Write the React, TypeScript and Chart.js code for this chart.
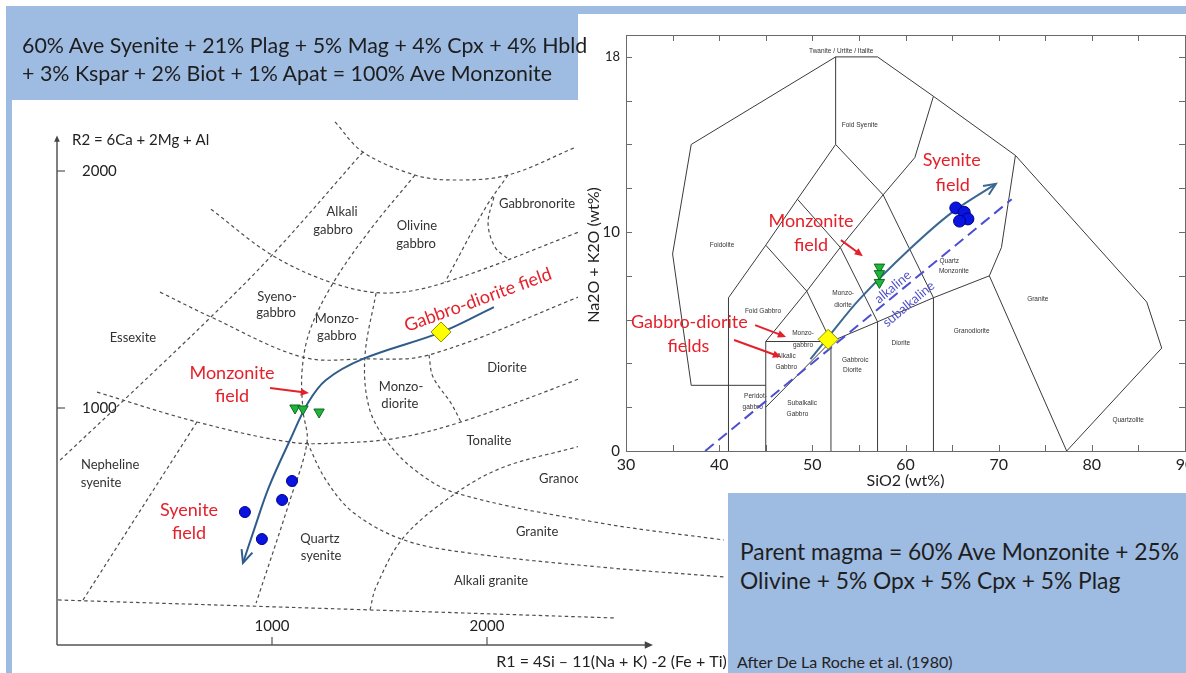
import React, { useEffect, useRef } from "react";
import { Chart, registerables } from "chart.js";

Chart.register(...registerables);

type Pt = [number, number];

const FONT = "Lato, 'Open Sans', sans-serif";
const SMALL = "'Liberation Sans', Arial, sans-serif";
const RED = "#e4212b";
const BLUE_BG = "#9ebbe2";

// ---------------- Left chart: R1-R2 diagram ----------------
const r1Ticks = [1000, 2000];
const r1TickLabels = ["1000", "2000"];
const r2Ticks = [1000, 2000];
const r2TickLabels = ["1000", "2000"];
const r1AxisEnd = 2772;
const r2AxisEnd = 2150;

const bTopArc: Pt[] = [[1293, 2207], [1423, 2080], [1665, 1983], [1846, 1962], [2098, 1983], [2414, 2101]];
const bAlkaliGabbroW: Pt[] = [[1423, 2080], [1000, 1645], [716, 1384], [326, 1046], [5, 772]];
const bUpperCurve: Pt[] = [[716, 1839], [1000, 1645], [1284, 1527], [1530, 1485], [1795, 1527], [2414, 1738], [2600, 1810]];
const bMiddleCurve: Pt[] = [[479, 1489], [716, 1384], [1140, 1215], [1423, 1207], [1730, 1224], [2414, 1464], [2600, 1540]];
const bLowerCurve: Pt[] = [[186, 1067], [651, 941], [1084, 856], [1298, 852], [1581, 873], [1879, 941], [2414, 1118], [2600, 1190]];
const bSyeniteW: Pt[] = [[1665, 1983], [1456, 1751], [1284, 1527], [1177, 1329], [1140, 1160], [1144, 991], [1163, 856], [1084, 612], [926, 177]];
const bOlivineE: Pt[] = [[2098, 1983], [1995, 1848], [1805, 1532]];
const bGabbronorite: Pt[] = [[2032, 1890], [2005, 1780], [2037, 1679], [2098, 1629]];
const bMonzoE: Pt[] = [[1484, 1485], [1432, 1215], [1451, 1004], [1530, 865], [1665, 738], [1856, 641], [2525, 515], [3102, 443]];
const bDioriteW: Pt[] = [[1730, 1224], [1749, 1131], [1832, 1021], [1879, 941]];
const bQzSyeniteE: Pt[] = [[1163, 856], [1251, 696], [1381, 557], [1614, 443], [1916, 388], [2525, 329], [3102, 287]];
const bGraniteW: Pt[] = [[1456, 148], [1484, 245], [1614, 456], [1856, 641], [2079, 751], [2414, 835], [2758, 928]];
const bBase: Pt[] = [[5, 190], [1456, 148], [2595, 114]];
const bNephSyeniteE: Pt[] = [[651, 941], [121, 190]];

const leftTrend: Pt[] = [[2032, 1426], [1791, 1321], [1423, 1207], [1251, 1118], [1167, 1021], [1084, 865], [986, 667], [916, 485], [865, 346]];

const leftSyeniteR1 = [1093, 1047, 874, 953];
const leftSyeniteR2 = [692, 612, 561, 447];
const leftMonzoniteR1 = [1107, 1144, 1219];
const leftMonzoniteR2 = [1000, 996, 983];
const leftParentR1 = [1786];
const leftParentR2 = [1321];

const leftFieldLabels = [
  { t: "Alkali", x: 1326, y: 1827 }, { t: "gabbro", x: 1284, y: 1751 },
  { t: "Olivine", x: 1674, y: 1768 }, { t: "gabbro", x: 1670, y: 1692 },
  { t: "Gabbronorite", x: 2233, y: 1861 },
  { t: "Syeno-", x: 1023, y: 1468 }, { t: "gabbro", x: 1019, y: 1401 },
  { t: "Monzo-", x: 1302, y: 1375 }, { t: "gabbro", x: 1302, y: 1304 },
  { t: "Essexite", x: 353, y: 1295 },
  { t: "Diorite", x: 2093, y: 1169 },
  { t: "Monzo-", x: 1600, y: 1089 }, { t: "diorite", x: 1595, y: 1017 },
  { t: "Tonalite", x: 2009, y: 861 },
  { t: "Nepheline", x: 247, y: 759 }, { t: "syenite", x: 205, y: 683 },
  { t: "Granodiorite", x: 2242, y: 700, a: "left" },
  { t: "Granite", x: 2233, y: 477 },
  { t: "Quartz", x: 1223, y: 447 }, { t: "syenite", x: 1228, y: 375 },
  { t: "Alkali granite", x: 2019, y: 270 },
];
const leftRedLabels = [
  { t: "Monzonite", x: 814, y: 1148 }, { t: "field", x: 814, y: 1051 },
  { t: "Syenite", x: 614, y: 570 }, { t: "field", x: 614, y: 473 },
  { t: "Gabbro-diorite field", x: 1958, y: 1456, rot: -20 },
];
const leftRedArrows = [{ from: [991, 1084], to: [1172, 1063] }];

// ---------------- Right chart: TAS diagram ----------------
const tasXLabelTicks = [30, 40, 50, 60, 70, 80, 90];
const tasXMinorTicks = [30, 35, 40, 45, 50, 55, 60, 65, 70, 75, 80, 85, 90];
const tasYMinorTicks = [0, 2, 4, 6, 8, 10, 12, 14, 16, 18];
const tasYLabelTicks = [0, 10, 18];

const tOuter: Pt[] = [[37, 3], [35, 9], [37, 14], [52.5, 18], [57, 18], [63, 16.2], [71.8, 13.5], [85.9, 6.8], [87.5, 4.7], [77.3, 0]];
const tPeridot: Pt[] = [[37, 3], [45, 3]];
const tFoidLow: Pt[] = [[41, 0], [41, 7], [45, 9.4], [48.4, 11.5], [52.5, 14], [57.6, 11.7], [63, 7]];
const tApex: Pt[] = [[52.5, 14], [52.5, 18]];
const tSyeniteW: Pt[] = [[57.6, 11.7], [61, 13.4], [63, 16.2]];
const tMonzoA: Pt[] = [[45, 0], [45, 5], [49.4, 7.3], [53, 9.3], [57.6, 11.7]];
const tMonzoB: Pt[] = [[45, 9.4], [49.4, 7.3], [52, 5]];
const tMonzoC: Pt[] = [[48.4, 11.5], [53, 9.3], [57, 5.9]];
const tSubalkTop: Pt[] = [[45, 5], [52, 5], [57, 5.9], [63, 7], [69, 8], [70.3, 9.3], [71.8, 13.5]];
const tV52: Pt[] = [[52, 0], [52, 5]];
const tV57: Pt[] = [[57, 0], [57, 5.9]];
const tV63: Pt[] = [[63, 0], [63, 7]];
const tGraniteW: Pt[] = [[69, 8], [77.3, 0]];
const tGabbroSplit: Pt[] = [[45, 2], [52, 5]];
const tIrvine: Pt[] = [[38.5, 0], [71.4, 11.5]];
const tasTrend: Pt[] = [[49.8, 4.2], [51.7, 5.2], [55, 6.9], [60.4, 9.2], [65, 10.9], [69.7, 12.2]];

const tasSyeniteSi = [65.4, 66.3, 66.7, 65.8];
const tasSyeniteAlk = [11.1, 10.9, 10.6, 10.5];
const tasMonzoniteSi = [57.2, 57.2, 57.2];
const tasMonzoniteAlk = [8.4, 8.1, 7.7];
const tasParentSi = [51.7];
const tasParentAlk = [5.1];

const tasFieldLabels = [
  { t: "Twanite / Urtite / Italite", x: 53.1, y: 18.25 },
  { t: "Foid Syenite", x: 55.1, y: 14.9 },
  { t: "Foidolite", x: 40.3, y: 9.4 },
  { t: "Foid Gabbro", x: 44.7, y: 6.4 },
  { t: "Monzo-", x: 49.0, y: 5.4 }, { t: "gabbro", x: 49.0, y: 4.85 },
  { t: "Monzo-", x: 53.3, y: 7.2 }, { t: "diorite", x: 53.3, y: 6.65 },
  { t: "Alkalic", x: 47.2, y: 4.34 }, { t: "Gabbro", x: 47.2, y: 3.85 },
  { t: "Peridot-", x: 43.9, y: 2.48 }, { t: "gabbro", x: 43.6, y: 2.0 },
  { t: "Subalkalic", x: 48.9, y: 2.18 }, { t: "Gabbro", x: 48.4, y: 1.69 },
  { t: "Gabbroic", x: 54.6, y: 4.16 }, { t: "Diorite", x: 54.3, y: 3.7 },
  { t: "Diorite", x: 59.5, y: 4.92 },
  { t: "Granodiorite", x: 67.1, y: 5.45 },
  { t: "Quartz", x: 64.7, y: 8.69 }, { t: "Monzonite", x: 65.2, y: 8.19 },
  { t: "Granite", x: 74.2, y: 6.93 },
  { t: "Quartzolite", x: 83.9, y: 1.42 },
];
const tasRedLabels = [
  { t: "Syenite", x: 64.96, y: 13.29 }, { t: "field", x: 65.06, y: 12.15 },
  { t: "Monzonite", x: 49.86, y: 10.5 }, { t: "field", x: 49.86, y: 9.41 },
  { t: "Gabbro-diorite", x: 36.8, y: 5.89 }, { t: "fields", x: 36.7, y: 4.79 },
];
const tasSeriesLabels = [
  { t: "alkaline", x: 58.64, y: 7.49 },
  { t: "subalkaline", x: 60.35, y: 6.71 },
];
const tasRedArrows = [
  { from: [53.07, 9.63], to: [55.43, 8.9] },
  { from: [43.86, 5.75], to: [47.18, 5.21] },
  { from: [41.6, 5.07], to: [46.65, 4.29] },
];

// ---------------- helpers ----------------
const toXY = (pts: Pt[]) => pts.map(([x, y]) => ({ x, y }));
const zip = (xs: number[], ys: number[]) => xs.map((x, i) => ({ x, y: ys[i] }));

function arrowHead(ctx: any, x1: number, y1: number, x2: number, y2: number, size: number, filled: boolean) {
  const a = Math.atan2(y2 - y1, x2 - x1);
  const s = 0.42;
  const p1 = [x2 - size * Math.cos(a - s), y2 - size * Math.sin(a - s)];
  const p2 = [x2 - size * Math.cos(a + s), y2 - size * Math.sin(a + s)];
  ctx.beginPath();
  ctx.moveTo(p1[0], p1[1]);
  ctx.lineTo(x2, y2);
  ctx.lineTo(p2[0], p2[1]);
  if (filled) {
    ctx.closePath();
    ctx.fill();
  } else {
    ctx.stroke();
  }
}

function drawArrow(ctx: any, X: any, Y: any, a: any, color: string) {
  const x1 = X(a.from[0]), y1 = Y(a.from[1]), x2 = X(a.to[0]), y2 = Y(a.to[1]);
  ctx.strokeStyle = color;
  ctx.fillStyle = color;
  ctx.lineWidth = 2;
  ctx.beginPath();
  ctx.moveTo(x1, y1);
  ctx.lineTo(x2 - (x2 - x1) * 0.15, y2 - (y2 - y1) * 0.15);
  ctx.stroke();
  arrowHead(ctx, x1, y1, x2, y2, 9, true);
}

function drawLabels(ctx: any, X: any, Y: any, list: any[], font: string, color: string) {
  ctx.font = font;
  ctx.fillStyle = color;
  ctx.textBaseline = "middle";
  list.forEach((l) => {
    ctx.save();
    ctx.translate(X(l.x), Y(l.y));
    if (l.rot) ctx.rotate((l.rot * Math.PI) / 180);
    ctx.textAlign = l.a || "center";
    ctx.fillText(l.t, 0, 0);
    ctx.restore();
  });
}

const dashedSet = (pts: Pt[]) => ({
  data: toXY(pts),
  showLine: true,
  borderColor: "#4d4d4d",
  borderWidth: 1.2,
  borderDash: [3.5, 3],
  pointRadius: 0,
  tension: 0.35,
  fill: false,
  order: 3,
});

const solidSet = (pts: Pt[]) => ({
  data: toXY(pts),
  showLine: true,
  borderColor: "#3a3a3a",
  borderWidth: 1,
  pointRadius: 0,
  tension: 0,
  fill: false,
  order: 3,
});

// ---------------- Left chart ----------------
const leftPlugin = {
  id: "leftDeco",
  beforeDatasetsDraw(chart: any) {
    const { ctx } = chart;
    const X = (v: number) => chart.scales.x.getPixelForValue(v);
    const Y = (v: number) => chart.scales.y.getPixelForValue(v);
    ctx.save();
    const x0 = X(0), y0 = Y(0);
    ctx.strokeStyle = "#555";
    ctx.fillStyle = "#444";
    ctx.lineWidth = 1.5;
    ctx.beginPath();
    ctx.moveTo(x0, y0);
    ctx.lineTo(x0, Y(r2AxisEnd) + 4);
    ctx.moveTo(x0, y0);
    ctx.lineTo(X(r1AxisEnd) - 4, y0);
    ctx.stroke();
    arrowHead(ctx, x0, y0 - 50, x0, Y(r2AxisEnd), 7, true);
    arrowHead(ctx, x0 + 50, y0, X(r1AxisEnd), y0, 9, true);
    ctx.lineWidth = 1.2;
    ctx.font = `15px ${FONT}`;
    ctx.fillStyle = "#222";
    ctx.textBaseline = "middle";
    r2Ticks.forEach((v, i) => {
      ctx.beginPath();
      ctx.moveTo(x0, Y(v));
      ctx.lineTo(x0 + 8, Y(v));
      ctx.stroke();
      ctx.textAlign = "left";
      ctx.fillText(r2TickLabels[i], x0 + 25, Y(v));
    });
    r1Ticks.forEach((v, i) => {
      ctx.beginPath();
      ctx.moveTo(X(v), y0);
      ctx.lineTo(X(v), y0 - 8);
      ctx.stroke();
      ctx.textAlign = "center";
      ctx.fillText(r1TickLabels[i], X(v), y0 - 19);
    });
    ctx.font = `15px ${FONT}`;
    ctx.textAlign = "left";
    ctx.fillText("R2 = 6Ca + 2Mg + Al", x0 + 15, Y(r2AxisEnd) + 5);
    ctx.font = `16px ${FONT}`;
    ctx.textAlign = "right";
    ctx.fillText("R1 = 4Si \u2013 11(Na + K) -2 (Fe + Ti)", X(3120) - 1, y0 + 17);
    drawLabels(ctx, X, Y, leftFieldLabels, `13px ${FONT}`, "#333");
    ctx.restore();
  },
  afterDatasetsDraw(chart: any) {
    const { ctx } = chart;
    const X = (v: number) => chart.scales.x.getPixelForValue(v);
    const Y = (v: number) => chart.scales.y.getPixelForValue(v);
    ctx.save();
    const n = leftTrend.length;
    ctx.strokeStyle = "#2f5c8a";
    ctx.lineWidth = 2;
    arrowHead(ctx, X(leftTrend[n - 2][0]), Y(leftTrend[n - 2][1]), X(leftTrend[n - 1][0]), Y(leftTrend[n - 1][1]), 14, false);
    leftRedArrows.forEach((a) => drawArrow(ctx, X, Y, a, RED));
    drawLabels(ctx, X, Y, leftRedLabels, `18px ${FONT}`, RED);
    ctx.restore();
  },
};

function LeftChart() {
  const ref = useRef<HTMLCanvasElement>(null);
  useEffect(() => {
    const boundaries = [bTopArc, bAlkaliGabbroW, bUpperCurve, bMiddleCurve, bLowerCurve, bSyeniteW, bOlivineE, bGabbronorite, bMonzoE, bDioriteW, bQzSyeniteE, bGraniteW, bBase, bNephSyeniteE];
    const chart = new Chart(ref.current as HTMLCanvasElement, {
      type: "scatter",
      data: {
        datasets: [
          { label: "Syenite", data: zip(leftSyeniteR1, leftSyeniteR2), pointRadius: 5.5, pointBackgroundColor: "#0a14e0", pointBorderColor: "#00008a", pointBorderWidth: 1, order: 0 },
          { label: "Monzonite", data: zip(leftMonzoniteR1, leftMonzoniteR2), pointStyle: "triangle", rotation: 180, pointRadius: 6, pointBackgroundColor: "#1fb43c", pointBorderColor: "#0b6a1c", pointBorderWidth: 1, order: 0 },
          { label: "Parent", data: zip(leftParentR1, leftParentR2), pointStyle: "rectRot", pointRadius: 10, pointBackgroundColor: "#ffff00", pointBorderColor: "#8f8f00", pointBorderWidth: 1, order: 0 },
          { label: "Trend", data: toXY(leftTrend), showLine: true, borderColor: "#2f5c8a", borderWidth: 2, pointRadius: 0, tension: 0.35, order: 1 },
          ...boundaries.map((b) => dashedSet(b)),
        ] as any,
      },
      options: {
        responsive: false,
        animation: false,
        events: [],
        layout: { autoPadding: false, padding: { left: 57, right: 2.2, top: 11.75, bottom: 28 } },
        plugins: { legend: { display: false }, tooltip: { enabled: false } },
        scales: {
          x: { type: "linear", min: 0, max: 3120, display: false },
          y: { type: "linear", min: 0, max: 2250, display: false },
        },
      } as any,
      plugins: [leftPlugin],
    });
    return () => chart.destroy();
  }, []);
  return <canvas ref={ref} width={730} height={573} style={{ position: "absolute", left: 0, top: 100, width: 730, height: 573 }} />;
}

// ---------------- Right chart ----------------
const tasPlugin = {
  id: "tasDeco",
  beforeDatasetsDraw(chart: any) {
    const { ctx, chartArea: ca } = chart;
    const X = (v: number) => chart.scales.x.getPixelForValue(v);
    const Y = (v: number) => chart.scales.y.getPixelForValue(v);
    ctx.save();
    ctx.strokeStyle = "#6a6a6a";
    ctx.lineWidth = 1;
    ctx.strokeRect(ca.left + 0.5, ca.top + 0.5, ca.right - ca.left, ca.bottom - ca.top);
    ctx.beginPath();
    tasXMinorTicks.forEach((v) => {
      const x = Math.round(X(v)) + 0.5;
      ctx.moveTo(x, ca.bottom);
      ctx.lineTo(x, ca.bottom - 6);
      ctx.moveTo(x, ca.top);
      ctx.lineTo(x, ca.top + 6);
    });
    tasYMinorTicks.forEach((v) => {
      const y = Math.round(Y(v)) + 0.5;
      ctx.moveTo(ca.left, y);
      ctx.lineTo(ca.left + 6, y);
      ctx.moveTo(ca.right, y);
      ctx.lineTo(ca.right - 6, y);
    });
    ctx.stroke();
    ctx.fillStyle = "#222";
    ctx.font = `16px ${FONT}`;
    ctx.textAlign = "center";
    ctx.textBaseline = "middle";
    ctx.fillText("SiO2 (wt%)", (ca.left + ca.right) / 2, ca.bottom + 30);
    ctx.save();
    ctx.translate(ca.left - 32, (ca.top + ca.bottom) / 2 + 12);
    ctx.rotate(-Math.PI / 2);
    ctx.fillText("Na2O + K2O (wt%)", 0, 0);
    ctx.restore();
    drawLabels(ctx, X, Y, tasFieldLabels, `6.5px ${SMALL}`, "#333");
    ctx.restore();
  },
  afterDatasetsDraw(chart: any) {
    const { ctx } = chart;
    const X = (v: number) => chart.scales.x.getPixelForValue(v);
    const Y = (v: number) => chart.scales.y.getPixelForValue(v);
    ctx.save();
    const n = tasTrend.length;
    ctx.strokeStyle = "#3a6893";
    ctx.lineWidth = 2;
    arrowHead(ctx, X(tasTrend[n - 2][0]), Y(tasTrend[n - 2][1]), X(tasTrend[n - 1][0]), Y(tasTrend[n - 1][1]), 13, false);
    ctx.font = `13px ${FONT}`;
    ctx.fillStyle = "#5050c8";
    ctx.textAlign = "center";
    ctx.textBaseline = "middle";
    tasSeriesLabels.forEach((l) => {
      ctx.save();
      ctx.translate(X(l.x), Y(l.y));
      ctx.rotate((-40 * Math.PI) / 180);
      ctx.fillText(l.t, 0, 0);
      ctx.restore();
    });
    tasRedArrows.forEach((a) => drawArrow(ctx, X, Y, a, RED));
    drawLabels(ctx, X, Y, tasRedLabels, `18px ${FONT}`, RED);
    ctx.restore();
  },
};

function RightChart() {
  const ref = useRef<HTMLCanvasElement>(null);
  useEffect(() => {
    const fields = [tOuter, tPeridot, tFoidLow, tApex, tSyeniteW, tMonzoA, tMonzoB, tMonzoC, tSubalkTop, tV52, tV57, tV63, tGraniteW, tGabbroSplit];
    const chart = new Chart(ref.current as HTMLCanvasElement, {
      type: "scatter",
      data: {
        datasets: [
          { label: "Syenite", data: zip(tasSyeniteSi, tasSyeniteAlk), pointRadius: 6, pointBackgroundColor: "#0a14e0", pointBorderColor: "#00008a", pointBorderWidth: 1, order: 0 },
          { label: "Monzonite", data: zip(tasMonzoniteSi, tasMonzoniteAlk), pointStyle: "triangle", rotation: 180, pointRadius: 6, pointBackgroundColor: "#1fb43c", pointBorderColor: "#0b6a1c", pointBorderWidth: 1, order: 0 },
          { label: "Parent", data: zip(tasParentSi, tasParentAlk), pointStyle: "rectRot", pointRadius: 10, pointBackgroundColor: "#ffff00", pointBorderColor: "#8f8f00", pointBorderWidth: 1, order: 0 },
          { label: "Trend", data: toXY(tasTrend), showLine: true, borderColor: "#3a6893", borderWidth: 2, pointRadius: 0, tension: 0.3, order: 1 },
          { label: "Irvine", data: toXY(tIrvine), showLine: true, borderColor: "#4b4fd0", borderWidth: 2, borderDash: [11, 6], pointRadius: 0, order: 2 },
          ...fields.map((f) => solidSet(f)),
        ] as any,
      },
      options: {
        responsive: false,
        animation: false,
        events: [],
        layout: { autoPadding: false, padding: { left: 0, right: 33, top: 21, bottom: 0 } },
        plugins: { legend: { display: false }, tooltip: { enabled: false } },
        scales: {
          x: {
            type: "linear",
            min: 30,
            max: 90,
            position: "bottom",
            grid: { display: false, drawTicks: false },
            border: { display: false },
            afterBuildTicks: (s: any) => {
              s.ticks = tasXLabelTicks.map((v) => ({ value: v }));
            },
            ticks: { padding: 4, color: "#222", autoSkip: false, maxRotation: 0, font: { family: FONT, size: 16 } },
            afterFit: (s: any) => {
              s.height = 39;
            },
          },
          y: {
            type: "linear",
            min: 0,
            max: 19,
            position: "left",
            grid: { display: false, drawTicks: false },
            border: { display: false },
            afterBuildTicks: (s: any) => {
              s.ticks = tasYLabelTicks.map((v) => ({ value: v }));
            },
            ticks: {
              padding: 6,
              color: "#222",
              font: (c: any) => ({ family: FONT, size: c.tick && c.tick.value === 18 ? 13 : 15 }),
            },
            afterFit: (s: any) => {
              s.width = 48;
            },
          },
        },
      } as any,
      plugins: [tasPlugin],
    });
    return () => chart.destroy();
  }, []);
  return <canvas ref={ref} width={640} height={476} style={{ position: "absolute", left: 0, top: 0, width: 640, height: 476 }} />;
}

export default function App() {
  useEffect(() => {
    document.body.style.margin = "0";
  }, []);
  const big = { position: "absolute" as const, fontFamily: FONT, color: "#1e1e1e", whiteSpace: "nowrap" as const };
  return (
    <div style={{ position: "fixed", left: 0, top: 0, width: 1186, height: 673, overflow: "hidden", background: "#fff" }}>
      <div style={{ position: "absolute", left: 6, top: 6, width: 1180, height: 8, background: BLUE_BG }} />
      <div style={{ position: "absolute", left: 6, top: 6, width: 572, height: 94, background: BLUE_BG }} />
      <div style={{ position: "absolute", left: 6, top: 100, width: 6, height: 573, background: BLUE_BG }} />
      <div style={{ position: "absolute", left: 728, top: 493, width: 458, height: 180, background: BLUE_BG }} />
      <LeftChart />
      <div style={{ position: "absolute", left: 578, top: 14, width: 608, height: 476, background: "#fff", overflow: "hidden" }}>
        <RightChart />
      </div>
      <div style={{ ...big, left: 22, top: 31, fontSize: 21.4, lineHeight: "28px" }}>
        60% Ave Syenite + 21% Plag + 5% Mag + 4% Cpx + 4% Hbld
        <br />+ 3% Kspar + 2% Biot + 1% Apat = 100% Ave Monzonite
      </div>
      <div style={{ ...big, left: 740, top: 537, fontSize: 22.8, lineHeight: "29px" }}>
        Parent magma = 60% Ave Monzonite + 25%
        <br />Olivine + 5% Opx + 5% Cpx + 5% Plag
      </div>
      <div style={{ position: "absolute", left: 737, top: 652, fontFamily: FONT, fontSize: 16, lineHeight: "20px", color: "#222", whiteSpace: "nowrap" }}>
        After De La Roche et al. (1980)
      </div>
    </div>
  );
}
